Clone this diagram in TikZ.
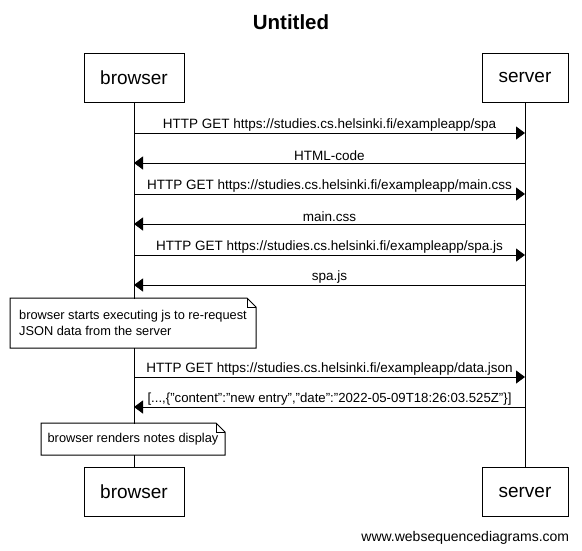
\documentclass[tikz,border=0pt]{standalone}
\usepackage{fontspec}
\setmainfont{Liberation Sans}
\usetikzlibrary{arrows.meta, positioning}

\begin{document}
\begin{tikzpicture}[
            x=1pt, y=-1pt,
            line width=1pt,
            font=\fontsize{13.5}{16}\selectfont,
            actor/.style={rectangle, draw, fill=white, minimum height=49pt, inner sep=0pt, font=\fontsize{19}{22}\selectfont},
            msg/.style={-{Triangle[length=9pt,width=13pt]}},
            lbl/.style={above, inner sep=1.5pt},
            note/.style={rectangle, fill=white, align=left, anchor=north west, inner xsep=6pt, inner ysep=0pt, font=\fontsize{12.8}{16}\selectfont}
        ]
        \useasboundingbox (0,0) rectangle (582,550);

        \node [font=\bfseries\fontsize{20.5}{24}\selectfont] (title) at (291,22) {Untitled};

        % participants
        \node (browserTop) [actor, minimum width=100pt] at (134,77.5) {browser};
        \node (serverTop) [actor, minimum width=86pt] at (525,77.5) {server};
        \node (browserBot) [actor, minimum width=100pt] at (134,492) {browser};
        \node (serverBot) [actor, minimum width=86pt] at (525,492) {server};

        \draw (browserTop.south) -- (browserBot.north);
        \draw (serverTop.south) -- (serverBot.north);

        \foreach \i/\y in {1/133, 2/163, 3/194, 4/224, 5/255, 6/285, 7/377, 8/407} {
            \coordinate (b\i) at (134,\y);
            \coordinate (s\i) at (525,\y);
        }

        % messages
        \draw [msg] (b1) -- node[lbl] {HTTP GET https://studies.cs.helsinki.fi/exampleapp/spa} (s1);
        \draw [msg] (s2) -- node[lbl] {HTML-code} (b2);
        \draw [msg] (b3) -- node[lbl] {HTTP GET https://studies.cs.helsinki.fi/exampleapp/main.css} (s3);
        \draw [msg] (s4) -- node[lbl] {main.css} (b4);
        \draw [msg] (b5) -- node[lbl] {HTTP GET https://studies.cs.helsinki.fi/exampleapp/spa.js} (s5);
        \draw [msg] (s6) -- node[lbl] {spa.js} (b6);
        \draw [msg] (b7) -- node[lbl] {HTTP GET https://studies.cs.helsinki.fi/exampleapp/data.json} (s7);
        \draw [msg] (s8) -- node[lbl, font=\fontsize{13.2}{16}\selectfont] {[...,\{"content":"new entry","date":"2022-05-09T18:26:03.525Z"\}]} (b8);

        % notes
        \node (note1) [note, minimum width=245pt, minimum height=49pt] at (10,298) {browser starts executing js to re-request\\JSON data from the server};
        \node (note2) [note, minimum width=183pt, minimum height=31pt] at (41,423) {browser renders notes display};

        \foreach \n in {note1, note2} {
            \draw (\n.south west) -- (\n.north west) -- ([xshift=-9pt]\n.north east) -- ([yshift=-9pt]\n.north east) -- (\n.south east) -- cycle;
            \draw [line width=0.6pt] ([xshift=-9pt]\n.north east) -- ([xshift=-9pt,yshift=-9pt]\n.north east) -- ([yshift=-9pt]\n.north east);
        }

        \node (footer) [anchor=base east, font=\fontsize{14}{16}\selectfont] at (573,541) {www.websequencediagrams.com};
\end{tikzpicture}
\end{document}
